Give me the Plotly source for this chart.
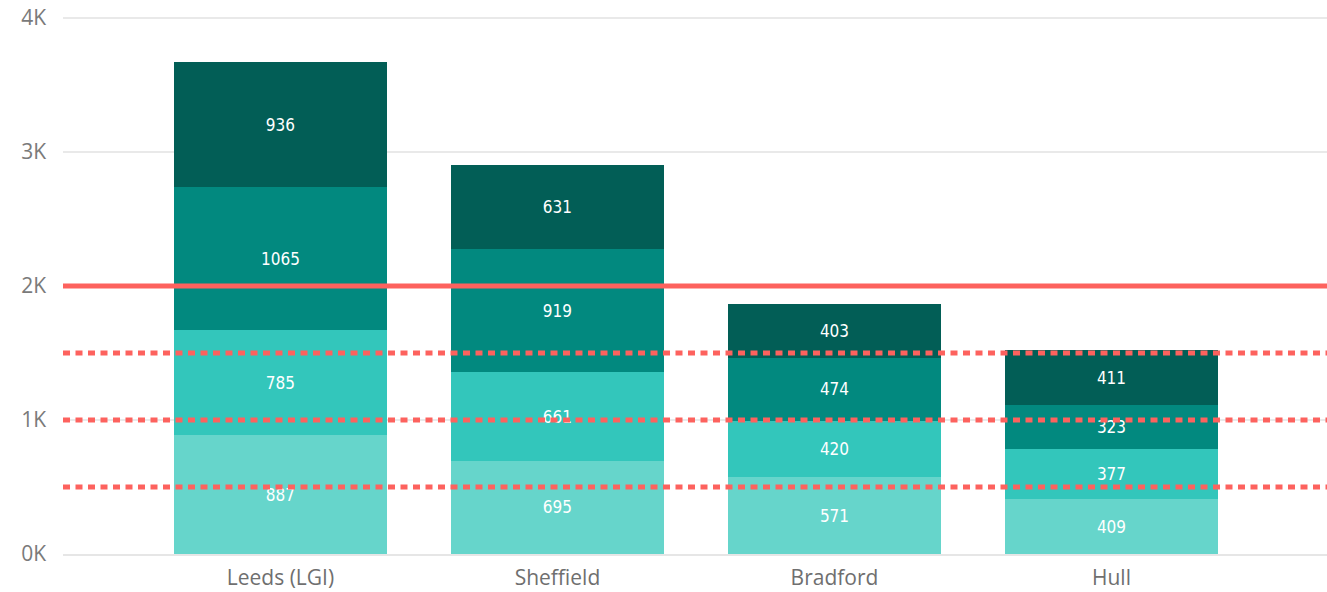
import plotly.graph_objects as go

# --- data
hospitals = ["Leeds (LGI)", "Sheffield", "Bradford", "Hull"]
band_1 = [887, 695, 571, 409]
band_2 = [785, 661, 420, 377]
band_3 = [1065, 919, 474, 323]
band_4 = [936, 631, 403, 411]

target_value = 2000
threshold_values = [1500, 1000, 500]

y_tick_values = [0, 1000, 2000, 3000, 4000]
y_tick_labels = ["0K", "1K", "2K", "3K", "4K"]

colors = ["#66D5CB", "#33C6BB", "#02897F", "#025E56"]

fig = go.Figure()
for vals, col in zip([band_1, band_2, band_3, band_4], colors):
    fig.add_trace(go.Bar(
        x=hospitals, y=vals, marker=dict(color=col, line=dict(width=0)),
        text=[str(v) for v in vals], textposition="inside",
        insidetextanchor="middle", textangle=0,
        textfont=dict(family="DejaVu Sans Condensed", size=17, color="white"),
        width=0.769, showlegend=False, hoverinfo="skip",
    ))

# reference lines
fig.add_shape(type="line", xref="paper", x0=0, x1=1, yref="y",
              y0=target_value, y1=target_value,
              line=dict(color="#FD625E", width=5))
for v in threshold_values:
    fig.add_shape(type="line", xref="paper", x0=0, x1=1, yref="y", y0=v, y1=v,
                  line=dict(color="#FD625E", width=5, dash="7px,5.5px"))

fig.update_layout(
    width=1327, height=592,
    barmode="stack",
    plot_bgcolor="white", paper_bgcolor="white",
    margin=dict(l=63, r=0, t=11, b=38),
    font=dict(family="Open Sans", color="#777777"),
)
fig.update_xaxes(
    range=[-0.785, 3.778], showgrid=False, showline=True,
    linecolor="#E6E6E6", linewidth=2, ticks="",
    tickfont=dict(size=21, color="#6F6F6F"), ticklabelstandoff=4,
    automargin=False,
)
fig.update_yaxes(
    range=[0, 4052], tickvals=y_tick_values, ticktext=y_tick_labels,
    showgrid=True, gridcolor="#E9E9E9", gridwidth=2, zeroline=False,
    tickfont=dict(size=21, color="#7A7A7A"), ticklabelstandoff=16,
    ticklabeloverflow="allow", automargin=False,
)

# drop the browser's default 8px body margin so the figure fills the window
fig.write_html("out.html", config={"displayModeBar": False},
               post_script="document.body.style.margin='0';")
